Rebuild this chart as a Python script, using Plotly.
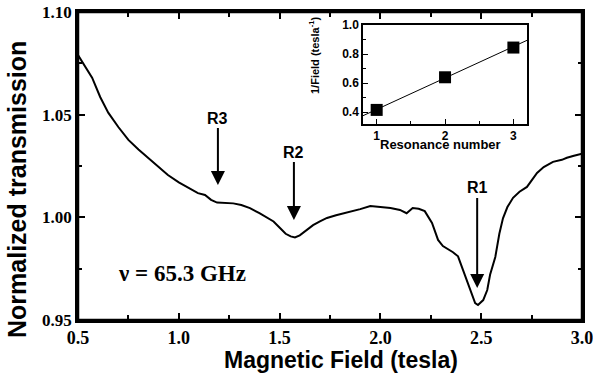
import plotly.graph_objects as go

# Main curve: magnetic field (tesla) vs normalized transmission
field = [0.50, 0.57, 0.61, 0.65, 0.70, 0.75, 0.80, 0.847, 0.90, 0.946, 1.00, 1.046,
         1.095, 1.13, 1.16, 1.19, 1.23, 1.27, 1.31, 1.353, 1.40, 1.437, 1.47, 1.502,
         1.53, 1.555, 1.576, 1.60, 1.63, 1.666, 1.70, 1.735, 1.78, 1.85, 1.90, 1.95,
         2.00, 2.05, 2.097, 2.13, 2.16, 2.19, 2.22, 2.256, 2.286, 2.31, 2.36, 2.385,
         2.41, 2.445, 2.47, 2.484, 2.51, 2.53, 2.544, 2.57, 2.59, 2.608, 2.63, 2.658,
         2.69, 2.727, 2.75, 2.777, 2.81, 2.856, 2.90, 2.925, 2.96, 3.00]
transmission = [1.079, 1.068, 1.0586, 1.051, 1.044, 1.0377, 1.033, 1.029, 1.0245, 1.0206,
                1.017, 1.0143, 1.0118, 1.0109, 1.0085, 1.0072, 1.0070, 1.0068, 1.006,
                1.0045, 1.002, 1.0001, 0.998, 0.9948, 0.992, 0.9907, 0.9902, 0.9912,
                0.9935, 0.9962, 0.998, 0.9997, 1.001, 1.0026, 1.004, 1.0055, 1.005,
                1.0045, 1.0036, 1.002, 1.0045, 1.0042, 1.003, 0.9973, 0.989, 0.986,
                0.983, 0.981, 0.9743, 0.9646, 0.9582, 0.9573, 0.9597, 0.9646, 0.972,
                0.9807, 0.992, 0.9995, 1.005, 1.0095, 1.0125, 1.0148, 1.018, 1.0216,
                1.0245, 1.027, 1.028, 1.029, 1.030, 1.031]

# Resonance markers: label, field position, arrow tip value
res_labels = ["R1", "R2", "R3"]
res_field = [2.48, 1.571, 1.194]
res_tip = [0.9656, 0.9987, 1.0157]

# Inset: resonance number vs 1/field
res_number = [1, 2, 3]
inv_field = [0.415, 0.64, 0.845]
fit_x = [0.8, 3.2]
fit_y = [0.375, 0.895]

fig = go.Figure()
fig.add_trace(go.Scatter(x=field, y=transmission, mode="lines",
                         line=dict(color="black", width=2), showlegend=False))
fig.add_trace(go.Scatter(x=fit_x, y=fit_y, mode="lines", xaxis="x2", yaxis="y2",
                         line=dict(color="black", width=1), showlegend=False))
fig.add_trace(go.Scatter(x=res_number, y=inv_field, mode="markers", xaxis="x2", yaxis="y2",
                         marker=dict(symbol="square", size=12, color="black"),
                         showlegend=False))

serif = dict(family="Liberation Serif", color="black", weight="bold")
sans = dict(family="Liberation Sans", color="black", weight="bold")

fig.update_layout(
    width=593, height=380, showlegend=False,
    margin=dict(l=78, r=11, t=12, b=60),
    paper_bgcolor="white", plot_bgcolor="white",
    xaxis=dict(range=[0.5, 3.0], dtick=0.5, tickformat=".1f", ticks="inside", ticklen=7,
               tickwidth=1.5, tickcolor="black", showline=True, linewidth=2.5,
               linecolor="black", mirror="ticks", showgrid=False, zeroline=False,
               automargin=False, ticklabeloverflow="allow",
               tickfont=dict(size=18, **serif),
               minor=dict(dtick=0.25, ticks="inside", ticklen=5, tickwidth=1.5,
                          tickcolor="black")),
    yaxis=dict(range=[0.95, 1.10], dtick=0.05, tickformat=".2f", ticks="inside", ticklen=7,
               tickwidth=1.5, tickcolor="black", showline=True, linewidth=2.5,
               linecolor="black", mirror="ticks", showgrid=False, zeroline=False,
               automargin=False, tickfont=dict(size=17, **serif),
               minor=dict(dtick=0.025, ticks="inside", ticklen=4, tickwidth=1.5,
                          tickcolor="black")),
    xaxis2=dict(domain=[0.5655, 0.891], anchor="y2", range=[0.8, 3.2], dtick=1,
                ticks="inside", ticklen=5, tickwidth=1, tickcolor="black", showline=True,
                linewidth=1.5, linecolor="black", mirror=True, showgrid=False,
                zeroline=False, automargin=False, tickfont=dict(size=12, **sans),
                minor=dict(dtick=0.5, ticks="inside", ticklen=3, tickcolor="black")),
    yaxis2=dict(domain=[0.636, 0.958], anchor="x2", range=[0.317, 1.001], dtick=0.2,
                tickformat=".1f", ticks="inside", ticklen=5, tickwidth=1, tickcolor="black",
                showline=True, linewidth=1.5, linecolor="black", mirror=True,
                automargin=False, showgrid=False, zeroline=False,
                tickfont=dict(size=12, **sans),
                minor=dict(dtick=0.1, ticks="inside", ticklen=3, tickcolor="black")),
)

# Frame of the main plot drawn as a shape too (always visible)
fig.add_shape(type="rect", xref="x domain", yref="y domain", x0=0, x1=1, y0=0, y1=1,
              line=dict(color="black", width=2.5), fillcolor="rgba(0,0,0,0)", layer="above")

# Arrows with labels at their tails (pixel offsets above the tip)
arrow_len_px = [-100, -68, -67]
for lab, bx, tip, ay in zip(res_labels, res_field, res_tip, arrow_len_px):
    fig.add_annotation(x=bx, y=tip, xref="x", yref="y", ax=0, ay=ay, text=lab,
                       showarrow=True, arrowhead=2, arrowsize=1.4, arrowwidth=2,
                       arrowcolor="black", standoff=0, font=dict(size=16, **sans))

def paper_text(px, py, text, size, font, angle=0):
    fig.add_annotation(x=(px - 78) / 504, y=(320 - py) / 308, xref="paper", yref="paper",
                       xanchor="center", yanchor="middle", text=text, showarrow=False,
                       textangle=angle, font=dict(size=size, **font))

paper_text(182, 273, "ν = 65.3 GHz", 23, serif)
paper_text(341, 360, "Magnetic Field (tesla)", 23, sans)
paper_text(17, 190, "Normalized transmission", 25, sans, -90)
paper_text(440, 145, "Resonance number", 13, sans)
paper_text(314, 56, "1/Field (tesla<sup>-1</sup>)", 11, sans, -90)

fig.write_html("out.html", config={"displayModeBar": False},
               post_script="document.body.style.margin='0';")
